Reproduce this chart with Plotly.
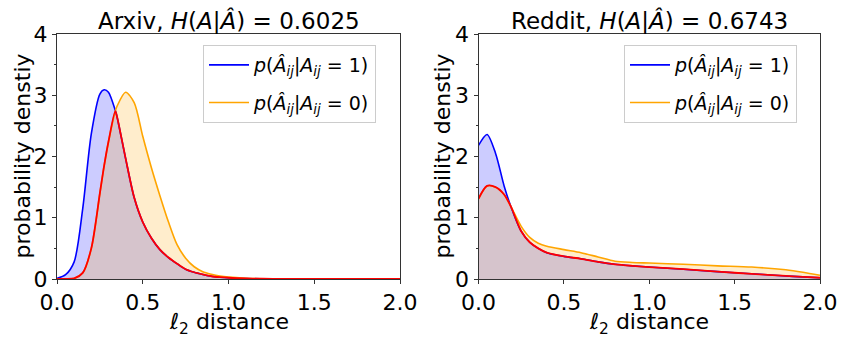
import numpy as np
import plotly.graph_objects as go

# ---------------- data ----------------
arxiv_x = [0, 0.05, 0.1, 0.15, 0.2, 0.25, 0.275, 0.3, 0.34, 0.35, 0.4, 0.45, 0.5, 0.55, 0.6,
           0.65, 0.7, 0.75, 0.8, 0.85, 0.9, 0.95, 1.0, 1.1, 1.2, 1.3, 1.5, 1.75, 2.0]
arxiv_pos = [0.01, 0.07, 0.28, 1.15, 2.37, 3.02, 3.09, 3.05, 2.75, 2.65, 1.97, 1.33, 0.93, 0.67, 0.48,
             0.35, 0.25, 0.16, 0.11, 0.075, 0.045, 0.03, 0.02, 0.008, 0.004, 0.002, 0.001, 0.0, 0.0]
arxiv_neg = [0.0, 0.001, 0.01, 0.1, 0.5, 1.4, 1.85, 2.24, 2.74, 2.82, 3.05, 2.88, 2.33, 1.82, 1.36,
             0.93, 0.56, 0.34, 0.2, 0.12, 0.078, 0.048, 0.03, 0.012, 0.005, 0.002, 0.001, 0.0, 0.0]

reddit_x = [0, 0.05, 0.1, 0.15, 0.19, 0.25, 0.3, 0.35, 0.4, 0.5, 0.6, 0.7, 0.8, 0.9, 1.0,
            1.2, 1.4, 1.6, 1.8, 1.9, 2.0]
reddit_pos = [2.18, 2.36, 2.05, 1.52, 1.18, 0.78, 0.60, 0.50, 0.43, 0.37, 0.33, 0.28, 0.24, 0.215,
              0.195, 0.16, 0.12, 0.085, 0.05, 0.035, 0.02]
reddit_neg = [1.31, 1.52, 1.50, 1.38, 1.18, 0.86, 0.68, 0.585, 0.535, 0.48, 0.43, 0.36, 0.29, 0.27,
              0.26, 0.24, 0.215, 0.195, 0.15, 0.11, 0.06]

titles = ["Arxiv, <i>H</i>(<i>A</i>|<i>Â</i>) = 0.6025",
          "Reddit, <i>H</i>(<i>A</i>|<i>Â</i>) = 0.6743"]
legend_names = ["<i>p</i>(<i>Â<sub>ij</sub></i>|<i>A<sub>ij</sub></i> = 1)",
                "<i>p</i>(<i>Â<sub>ij</sub></i>|<i>A<sub>ij</sub></i> = 0)"]
xlabel = "<i>ℓ</i><sub>2</sub> distance"
ylabel = "probability denstiy"
x_ticks = [0.0, 0.5, 1.0, 1.5, 2.0]
y_ticks = [0, 1, 2, 3, 4]

# ---------------- figure ----------------
W, H = 842, 337
FONT = "DejaVu Sans"
BLUE, ORANGE, RED = "#0000ff", "#ffa500", "#ff0000"

panels = [
    dict(x=arxiv_x, pos=arxiv_pos, neg=arxiv_neg, xdom=(57, 400), ax="", leg="legend"),
    dict(x=reddit_x, pos=reddit_pos, neg=reddit_neg, xdom=(478.5, 820), ax="2", leg="legend2"),
]
ytop, ybot = 34, 279

fig = go.Figure()
annotations = []
for i, p in enumerate(panels):
    xa, ya = "x" + p["ax"], "y" + p["ax"]
    x = np.array(p["x"])
    pos = np.array(p["pos"])
    neg = np.array(p["neg"])
    low = np.minimum(pos, neg)
    common = dict(xaxis=xa, yaxis=ya, mode="lines")
    sm = 0.8
    fig.add_trace(go.Scatter(x=x, y=pos, fill="tozeroy", fillcolor="rgba(0,0,255,0.2)",
                             line=dict(width=0, shape="spline", smoothing=sm),
                             showlegend=False, hoverinfo="skip", **common))
    fig.add_trace(go.Scatter(x=x, y=neg, fill="tozeroy", fillcolor="rgba(255,165,0,0.2)",
                             line=dict(width=0, shape="spline", smoothing=sm),
                             showlegend=False, hoverinfo="skip", **common))
    fig.add_trace(go.Scatter(x=x, y=pos, name=legend_names[0], legend=p["leg"],
                             legendgroup=f"a{i}",
                             line=dict(color=BLUE, width=1.6, shape="spline", smoothing=sm), **common))
    fig.add_trace(go.Scatter(x=x, y=neg, name=legend_names[1], legend=p["leg"],
                             legendgroup=f"b{i}",
                             line=dict(color=ORANGE, width=1.6, shape="spline", smoothing=sm), **common))
    fig.add_trace(go.Scatter(x=x, y=low, showlegend=False,
                             line=dict(color=RED, width=1.8, shape="spline", smoothing=sm), **common))

    x0, x1 = p["xdom"]
    axis_common = dict(showgrid=False, zeroline=False, showline=True, linecolor="#333",
                       linewidth=1, mirror=True, ticks="outside", ticklen=4, tickwidth=1,
                       tickcolor="#333", automargin=False,
                       tickfont=dict(family=FONT, size=22, color="black"))
    fig.update_layout(**{
        "xaxis" + p["ax"]: dict(domain=[x0 / W, x1 / W], range=[0, 2], anchor=ya,
                                tickvals=x_ticks, ticktext=[f"{v:.1f}" for v in x_ticks],
                                **axis_common),
        "yaxis" + p["ax"]: dict(domain=[(H - ybot) / H, (H - ytop) / H], range=[0, 4], anchor=xa,
                                tickvals=y_ticks, ticktext=[str(v) for v in y_ticks],
                                minor=dict(dtick=0.5, ticks="outside", ticklen=2, tickcolor="#333"),
                                **axis_common),
    })
    xc = (x0 + x1) / 2 / W
    annotations.append(dict(text=titles[i], x=xc, y=(H - 20) / H, xref="paper", yref="paper",
                            showarrow=False, xanchor="center", yanchor="middle",
                            font=dict(family=FONT, size=23, color="black")))
    annotations.append(dict(text=xlabel, x=xc, y=(H - 323) / H, xref="paper", yref="paper",
                            showarrow=False, xanchor="center", yanchor="middle",
                            font=dict(family=FONT, size=22, color="black")))
    ylx = [22, 442][i]
    annotations.append(dict(text=ylabel, x=ylx / W, y=(H - (ytop + ybot) / 2) / H,
                            xref="paper", yref="paper", textangle=-90,
                            showarrow=False, xanchor="center", yanchor="middle",
                            font=dict(family=FONT, size=22, color="black")))
    fig.update_layout(**{
        p["leg"]: dict(x=[203, 624][i] / W, y=(H - 45) / H, xanchor="left", yanchor="top",
                       bgcolor="rgba(255,255,255,0.8)", bordercolor="#cccccc", borderwidth=1,
                       font=dict(family=FONT, size=19, color="black"),
                       tracegroupgap=10, itemwidth=40)
    })

fig.update_layout(width=W, height=H, margin=dict(l=0, r=0, t=0, b=0, autoexpand=False),
                  plot_bgcolor="white", paper_bgcolor="white",
                  annotations=annotations, showlegend=True)

fig.write_html("out.html")
